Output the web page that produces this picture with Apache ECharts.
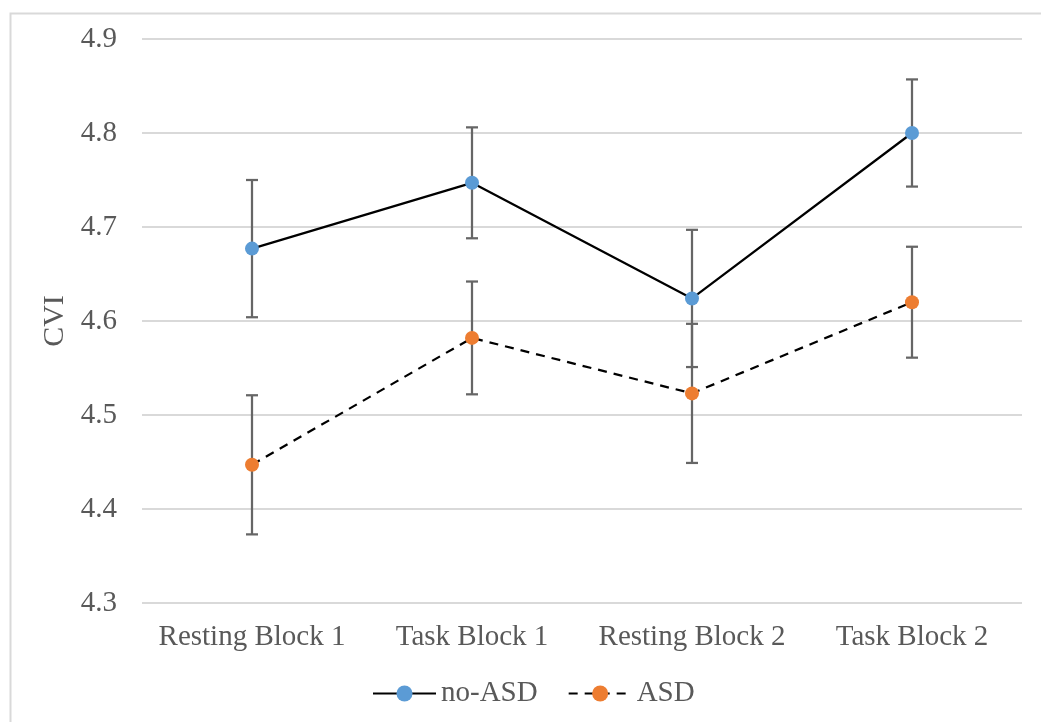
<!DOCTYPE html>
<html>
<head>
<meta charset="utf-8">
<script src="https://cdn.jsdelivr.net/npm/echarts@6/dist/echarts.min.js"></script>
<style>
html,body{margin:0;padding:0;background:#fff;}
#chart{width:1041px;height:722px;}
</style>
</head>
<body>
<div id="chart"></div>
<script>
const categories = ['Resting Block 1', 'Task Block 1', 'Resting Block 2', 'Task Block 2'];
const noAsdValues = [4.677, 4.747, 4.624, 4.800];
const noAsdErrors = [0.073, 0.059, 0.073, 0.057];
const asdValues = [4.447, 4.582, 4.523, 4.620];
const asdErrors = [0.074, 0.060, 0.074, 0.059];
const yTicks = [4.3, 4.4, 4.5, 4.6, 4.7, 4.8, 4.9];

const FONT = '"Liberation Serif", "Times New Roman", serif';
const TEXT = '#595959';

function errData(vals, errs) {
  return vals.map((v, i) => [i, v - errs[i], v + errs[i]]);
}
function errRender(params, api) {
  const x = api.value(0);
  const lo = api.coord([x, api.value(1)]);
  const hi = api.coord([x, api.value(2)]);
  const cap = 6;
  const style = { stroke: '#666666', lineWidth: 2.25, fill: null };
  return {
    type: 'group',
    children: [
      { type: 'line', shape: { x1: lo[0], y1: lo[1], x2: hi[0], y2: hi[1] }, style },
      { type: 'line', shape: { x1: hi[0] - cap, y1: hi[1], x2: hi[0] + cap, y2: hi[1] }, style },
      { type: 'line', shape: { x1: lo[0] - cap, y1: lo[1], x2: lo[0] + cap, y2: lo[1] }, style }
    ]
  };
}

const chart = echarts.init(document.getElementById('chart'));
chart.setOption({
  animation: false,
  backgroundColor: '#fff',
  textStyle: { fontFamily: FONT },
  graphic: [{
    type: 'rect', left: 8, top: 11, silent: true,
    shape: { width: 1100, height: 800 },
    style: { fill: null, stroke: '#d9d9d9', lineWidth: 2 }
  }],
  grid: { left: 142, right: 19, top: 39, bottom: 119 },
  legend: {
    bottom: 9, left: 367,
    itemWidth: 63, itemHeight: 20, itemGap: 30,
    textStyle: { fontFamily: FONT, fontSize: 29, color: TEXT },
    data: ['no-ASD', 'ASD']
  },
  xAxis: {
    type: 'category', data: categories,
    axisLine: { show: false }, axisTick: { show: false },
    axisLabel: { fontFamily: FONT, fontSize: 29, color: TEXT, margin: 20, interval: 0 }
  },
  yAxis: {
    type: 'value', min: 4.3, max: 4.9, interval: 0.1,
    name: 'CVI', nameLocation: 'middle', nameGap: 70, nameRotate: 90,
    nameTextStyle: { fontFamily: FONT, fontSize: 30, color: TEXT },
    axisLine: { show: false }, axisTick: { show: false },
    splitLine: { lineStyle: { color: '#d9d9d9', width: 2 } },
    axisLabel: {
      fontFamily: FONT, fontSize: 29, color: TEXT, margin: 25,
      formatter: v => yTicks.find(t => Math.abs(t - v) < 1e-6)?.toFixed(1) ?? ''
    }
  },
  series: [
    {
      type: 'custom', name: 'errNoAsd', renderItem: errRender,
      data: errData(noAsdValues, noAsdErrors), z: 1, silent: true
    },
    {
      type: 'custom', name: 'errAsd', renderItem: errRender,
      data: errData(asdValues, asdErrors), z: 1, silent: true
    },
    {
      name: 'no-ASD', type: 'line', data: noAsdValues, z: 3,
      symbol: 'circle', symbolSize: 14,
      lineStyle: { color: '#000', width: 2.25, type: 'solid' },
      itemStyle: { color: '#5b9bd5' }
    },
    {
      name: 'ASD', type: 'line', data: asdValues, z: 3,
      symbol: 'circle', symbolSize: 14,
      lineStyle: { color: '#000', width: 2.25, type: [9, 7] },
      itemStyle: { color: '#ed7d31' }
    }
  ]
});
</script>
</body>
</html>
